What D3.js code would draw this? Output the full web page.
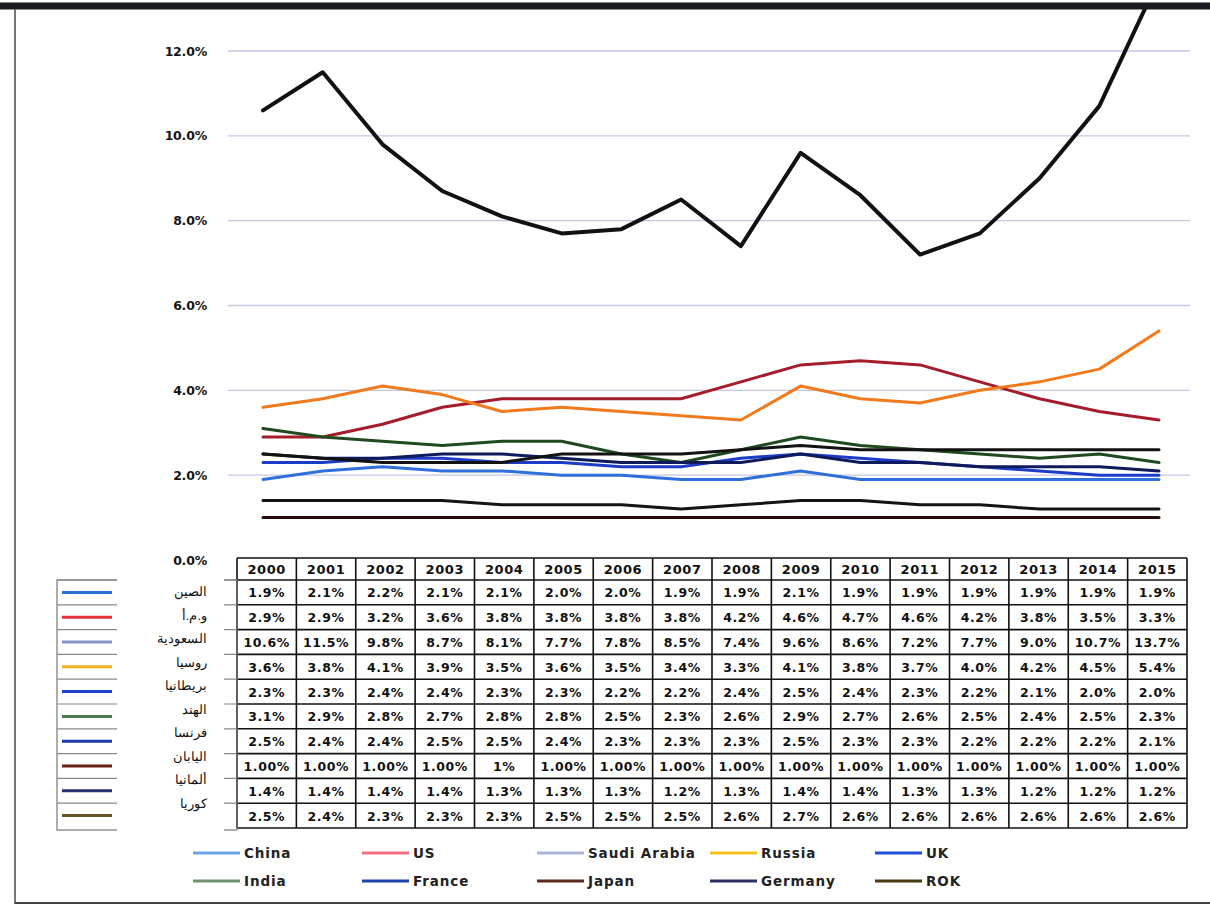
<!DOCTYPE html>
<html>
<head>
<meta charset="utf-8">
<script src="https://cdn.jsdelivr.net/npm/d3@7"></script>
<style>
  html, body { margin: 0; padding: 0; background: #fff; }
  svg { display: block; }
</style>
</head>
<body>
<svg id="chart" width="1210" height="909"></svg>
<script>
// Military spending as share of GDP, 2000-2015 (percent)
const years = ["2000","2001","2002","2003","2004","2005","2006","2007","2008","2009","2010","2011","2012","2013","2014","2015"];

const seriesNames = ["China","US","Saudi Arabia","Russia","UK","India","France","Japan","Germany","ROK"];
const arabicNames = ["الصين","و.م.أ","السعودية","روسيا","بريطانيا","الهند","فرنسا","اليابان","ألمانيا","كوريا"];

const china   = [1.9,2.1,2.2,2.1,2.1,2.0,2.0,1.9,1.9,2.1,1.9,1.9,1.9,1.9,1.9,1.9];
const us      = [2.9,2.9,3.2,3.6,3.8,3.8,3.8,3.8,4.2,4.6,4.7,4.6,4.2,3.8,3.5,3.3];
const saudi   = [10.6,11.5,9.8,8.7,8.1,7.7,7.8,8.5,7.4,9.6,8.6,7.2,7.7,9.0,10.7,13.7];
const russia  = [3.6,3.8,4.1,3.9,3.5,3.6,3.5,3.4,3.3,4.1,3.8,3.7,4.0,4.2,4.5,5.4];
const uk      = [2.3,2.3,2.4,2.4,2.3,2.3,2.2,2.2,2.4,2.5,2.4,2.3,2.2,2.1,2.0,2.0];
const india   = [3.1,2.9,2.8,2.7,2.8,2.8,2.5,2.3,2.6,2.9,2.7,2.6,2.5,2.4,2.5,2.3];
const france  = [2.5,2.4,2.4,2.5,2.5,2.4,2.3,2.3,2.3,2.5,2.3,2.3,2.2,2.2,2.2,2.1];
const japan   = [1.0,1.0,1.0,1.0,1.0,1.0,1.0,1.0,1.0,1.0,1.0,1.0,1.0,1.0,1.0,1.0];
const germany = [1.4,1.4,1.4,1.4,1.3,1.3,1.3,1.2,1.3,1.4,1.4,1.3,1.3,1.2,1.2,1.2];
const rok     = [2.5,2.4,2.3,2.3,2.3,2.5,2.5,2.5,2.6,2.7,2.6,2.6,2.6,2.6,2.6,2.6];

const yTicks = [0,2,4,6,8,10,12];

// table number formats per series (Japan is printed with two decimals; one cell is shortened)
const tableDecimals = [1,1,1,1,1,1,1,2,1,1];
const tableOverrides = { "Japan|2004": "1%" };

const allValues = [china, us, saudi, russia, uk, india, france, japan, germany, rok];

// styling
const lineColors   = ["#2f6fdc","#a51d2b","#111111","#f07a1c","#1c3cc8","#1f4a1f","#0f1a5c","#2a0c0c","#141414","#121212"];
const lineWidths   = [3,3,4,3,3,3,3,3,3,3];
const keyColors    = ["#2a6fd6","#e2323e","#8593c4","#f2b21e","#1b43cf","#4c7a4c","#1a3aa6","#6a2214","#29306a","#6b5424"];
const legendColors = ["#6aa3e6","#ef6f7e","#aab3d8","#f5bf1c","#1f4fd8","#6f936f","#1f40ae","#5a2a1a","#2b3060","#4a3a12"];

const svg = d3.select("#chart");
svg.append("rect").attr("width",1210).attr("height",909).attr("fill","#fff");

const series = seriesNames.map((name, i) => ({
  name, arabic: arabicNames[i], values: allValues[i],
  lineColor: lineColors[i], width: lineWidths[i],
  keyColor: keyColors[i], legendColor: legendColors[i], dec: tableDecimals[i]
}));

// scales
const x = d3.scalePoint().domain(years).range([263, 1159]);
const y = d3.scaleLinear().domain([0, 12]).range([560, 51]);

// gridlines
svg.append("g").selectAll("line").data(yTicks.filter(d => d > 0)).join("line")
  .attr("x1", 228).attr("x2", 1190)
  .attr("y1", d => y(d)).attr("y2", d => y(d))
  .attr("stroke", "#c3c7e6").attr("stroke-width", 1.4);

// y axis labels
const yAxis = d3.axisLeft(y).tickValues(yTicks).tickSize(0).tickPadding(0)
  .tickFormat(d => d3.format(".1f")(d) + "%");
const gy = svg.append("g").attr("transform", "translate(207,0)").call(yAxis);
gy.select(".domain").remove();
gy.selectAll("text")
  .attr("font-family", "DejaVu Sans").attr("font-weight", "bold")
  .attr("font-size", 12.5).attr("fill", "#141414").attr("letter-spacing", "-0.2");

// lines, clipped at the frame top
svg.append("clipPath").attr("id", "plotClip")
  .append("rect").attr("x", 0).attr("y", 9).attr("width", 1210).attr("height", 560);

const line = d3.line().x((d, i) => x(years[i])).y(d => y(d));
svg.append("g").attr("clip-path", "url(#plotClip)")
  .selectAll("path").data(series).join("path")
  .attr("d", d => line(d.values))
  .attr("fill", "none")
  .attr("stroke", d => d.lineColor)
  .attr("stroke-width", d => d.width)
  .attr("stroke-linejoin", "round")
  .attr("stroke-linecap", "round");

// data table
const tx = d3.scaleBand().domain(years).range([237, 1187]);
const headerTop = 558, headerBottom = 580;
const ty = d3.scaleBand().domain(seriesNames).range([headerBottom, 828]);

const table = svg.append("g");
// row separators (extend into the key on the left)
const rowEdges = [headerBottom].concat(seriesNames.map(n => ty(n) + ty.bandwidth()));
svg.append("g").selectAll("line").data(rowEdges.slice(0, -1)).join("line")
  .attr("x1", 57).attr("x2", 237).attr("y1", d => d).attr("y2", d => d)
  .attr("stroke", "#888").attr("stroke-width", 1.2);

table.selectAll("line.h").data([headerTop].concat(rowEdges)).join("line")
  .attr("class", "h")
  .attr("x1", 237).attr("x2", 1187).attr("y1", d => d).attr("y2", d => d)
  .attr("stroke", "#111").attr("stroke-width", 1.6);
table.selectAll("line.v").data(years.map(yr => tx(yr)).concat([1187])).join("line")
  .attr("class", "v")
  .attr("x1", d => d).attr("x2", d => d).attr("y1", headerTop).attr("y2", 828)
  .attr("stroke", "#111").attr("stroke-width", 1.6);

const cellFont = (g, size, spacing) => g.attr("font-family", "DejaVu Sans").attr("font-weight", "bold")
  .attr("font-size", size).attr("letter-spacing", spacing)
  .attr("fill", "#111").attr("text-anchor", "middle");

// squeeze any cell text that would overflow its column
function fitCells(sel) {
  sel.each(function () {
    const w = this.getComputedTextLength();
    if (w > 56) {
      d3.select(this).attr("letter-spacing", 0).attr("textLength", 56)
        .attr("lengthAdjust", "spacingAndGlyphs");
    }
  });
}

table.append("g").selectAll("text").data(years).join("text")
  .attr("x", d => tx(d) + tx.bandwidth() / 2)
  .attr("y", (headerTop + headerBottom) / 2 + 5)
  .text(d => d).call(cellFont, 13, 0.6);

series.forEach(s => {
  table.append("g").selectAll("text").data(s.values).join("text")
    .attr("x", (d, i) => tx(years[i]) + tx.bandwidth() / 2)
    .attr("y", ty(s.name) + ty.bandwidth() / 2 + 5)
    .text((d, i) => tableOverrides[s.name + "|" + years[i]] || (d.toFixed(s.dec) + "%"))
    .call(cellFont, 12.5, 0.6)
    .call(fitCells);
});

// series key to the left of the table
const key = svg.append("g");
key.append("rect").attr("x", 57).attr("y", headerBottom).attr("width", 180)
  .attr("height", 828 - headerBottom + 2).attr("fill", "none")
  .attr("stroke", "#777").attr("stroke-width", 1.2);
key.selectAll("line").data(series).join("line")
  .attr("x1", 62).attr("x2", 112)
  .attr("y1", d => ty(d.name) + ty.bandwidth() / 2)
  .attr("y2", d => ty(d.name) + ty.bandwidth() / 2)
  .attr("stroke", d => d.keyColor).attr("stroke-width", 3);

// Arabic country names
svg.append("rect").attr("x", 117).attr("y", 572).attr("width", 107).attr("height", 260).attr("fill", "#fff");
const ay = d3.scalePoint().domain(seriesNames).range([592, 804]);
svg.append("g").selectAll("text").data(series).join("text")
  .attr("x", 207).attr("y", d => ay(d.name) + 4)
  .attr("text-anchor", "end")
  .attr("font-family", "Liberation Sans, Arial").attr("font-size", 13).attr("fill", "#111")
  .text(d => d.arabic);

// bottom legend
const legX = [193, 362, 537, 710, 875];
const legY = [853, 881];
const legend = svg.append("g").selectAll("g").data(series).join("g")
  .attr("transform", (d, i) => `translate(${legX[i % 5]},${legY[Math.floor(i / 5)]})`);
legend.append("line").attr("x1", 0).attr("x2", 47)
  .attr("stroke", d => d.legendColor).attr("stroke-width", 3);
legend.append("text").attr("x", 51).attr("y", 5)
  .attr("font-family", "DejaVu Sans").attr("font-weight", "bold")
  .attr("font-size", 13.5).attr("letter-spacing", "0.9").attr("fill", "#222")
  .text(d => d.name);

// frame
svg.append("line").attr("x1", 0).attr("x2", 1210).attr("y1", 6).attr("y2", 6)
  .attr("stroke", "#1b1b1f").attr("stroke-width", 7);
svg.append("line").attr("x1", 15).attr("x2", 15).attr("y1", 9).attr("y2", 904)
  .attr("stroke", "#555").attr("stroke-width", 1.6);
svg.append("line").attr("x1", 15).attr("x2", 1210).attr("y1", 903).attr("y2", 903)
  .attr("stroke", "#444").attr("stroke-width", 2);
</script>
</body>
</html>
